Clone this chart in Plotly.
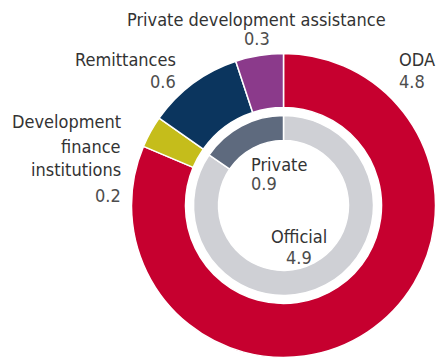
import plotly.graph_objects as go

# Outer ring (flows by type)
outer_labels = ["ODA", "Development finance institutions", "Remittances", "Private development assistance"]
outer_values = [4.8, 0.2, 0.6, 0.3]
outer_colors = ["#C6002F", "#C5BD1B", "#0B355E", "#8B3A8B"]

# Inner ring (official vs private)
inner_labels = ["Official", "Private"]
inner_values = [4.9, 0.9]
inner_colors = ["#CFD0D5", "#5E6A7E"]

W, H = 444, 361
OFF = 8  # default page body margin in the browser
FONT = "Liberation Sans Narrow, DejaVu Sans Condensed, Arial Narrow, sans-serif"


def px(x):
    return (x - OFF) / W


def py(y):
    return 1 - (y - OFF) / H


fig = go.Figure()
# outer ring: centre (283.5, 205.5) r=152 ; inner ring r=90
fig.add_trace(go.Pie(
    labels=outer_labels, values=outer_values, sort=False, direction="clockwise",
    rotation=0, hole=0.645, textinfo="none", hoverinfo="label+value",
    marker=dict(colors=outer_colors, line=dict(color="white", width=1.5)),
    domain=dict(x=[px(131.5), px(435.5)], y=[py(357.5), py(53.5)]),
    showlegend=False,
))
fig.add_trace(go.Pie(
    labels=inner_labels, values=inner_values, sort=False, direction="clockwise",
    rotation=0, hole=0.722, textinfo="none", hoverinfo="label+value",
    marker=dict(colors=inner_colors, line=dict(color="white", width=1.5)),
    domain=dict(x=[px(193.5), px(373.5)], y=[py(295.5), py(115.5)]),
    showlegend=False,
))

NAME_C = "#333333"
VAL_C = "#4d4d4d"


def ann(text, x, y, anchor, color=NAME_C, size=18, yanchor="middle"):
    fig.add_annotation(text=text, x=px(x), y=py(y), xref="paper", yref="paper",
                       xanchor=anchor, yanchor=yanchor, showarrow=False, borderpad=0,
                       font=dict(family=FONT, size=size, color=color))


# Outer ring labels
ann("Private development assistance", 256.5, 8, "center", yanchor="top")
ann(str(outer_values[3]), 256.5, 39, "center", VAL_C)
ann("Remittances", 177, 60, "right")
ann(str(outer_values[2]), 177, 81, "right", VAL_C)
ann("ODA", 398, 60, "left")
ann(str(outer_values[0]), 398, 81, "left", VAL_C)
ann("Development", 122, 121, "right")
ann("finance", 122, 146, "right")
ann("institutions", 122, 170, "right")
ann(str(outer_values[1]), 122, 195, "right", VAL_C)

# Inner ring labels
ann("Private", 250, 164, "left")
ann(str(inner_values[1]), 250, 183, "left", VAL_C)
ann("Official", 299, 236, "center")
ann(str(inner_values[0]), 299, 257, "center", VAL_C)

fig.update_layout(width=W, height=H, margin=dict(l=0, r=0, t=0, b=0),
                  paper_bgcolor="white", plot_bgcolor="white")
fig.write_html("out.html")
